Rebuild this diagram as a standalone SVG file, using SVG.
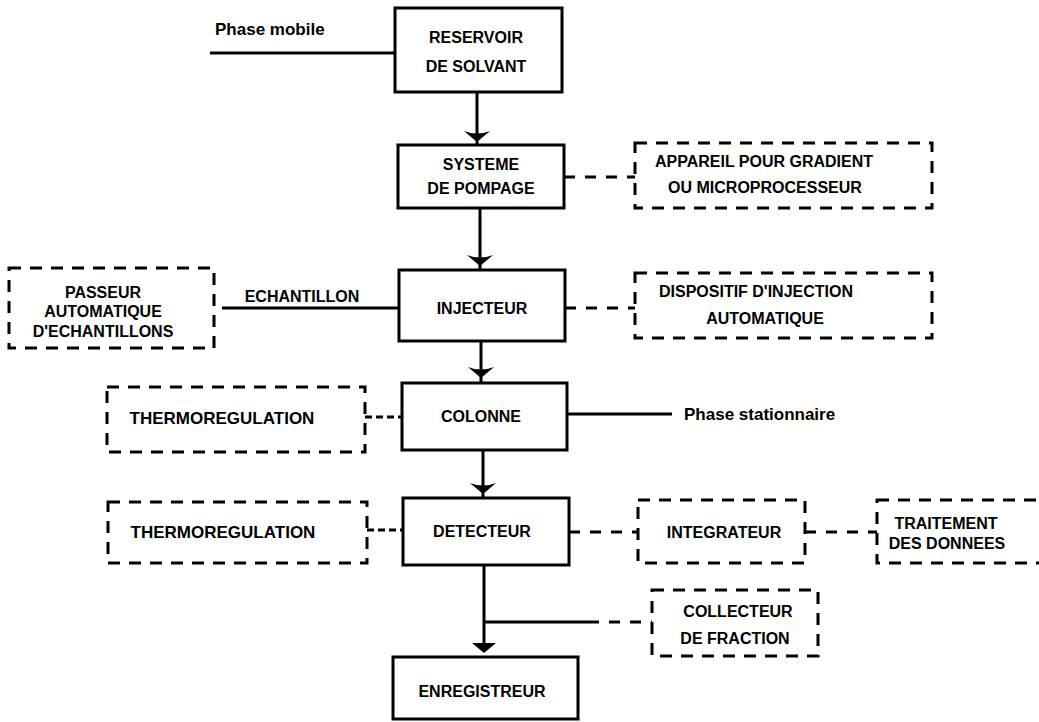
<svg xmlns="http://www.w3.org/2000/svg" width="1039" height="722" viewBox="0 0 1039 722">
<style>
.box{fill:#fff;stroke:#000;stroke-width:3}
.dbox{fill:#fff;stroke:#000;stroke-width:3;stroke-dasharray:12 9}
.ln{stroke:#000;stroke-width:3;fill:none}
.dln{stroke:#000;stroke-width:3;fill:none;stroke-dasharray:11 10}
.sln{stroke:#000;stroke-width:3;fill:none;stroke-dasharray:7 4}
.t{font-family:"Liberation Sans",Arial,sans-serif;font-weight:bold;font-size:16px;fill:#000;text-anchor:middle}
.l{font-family:"Liberation Sans",Arial,sans-serif;font-weight:bold;font-size:17px;fill:#000}
.th{font-size:17px}
</style>
<defs>
<path id="ah" d="M-13,-11 Q0,-6 13,-11 L0,0 Z" fill="#000"/>
<path id="tri" d="M-12,-10 L12,-10 L0,0 Z" fill="#000"/>
</defs>
<rect width="1039" height="722" fill="#fff"/>
<g id="connectors">
<line class="ln" x1="210" y1="53" x2="395" y2="53"/>
<line class="ln" x1="477" y1="92" x2="477" y2="145"/>
<use href="#ah" x="477" y="142"/>
<line class="ln" x1="480" y1="208" x2="480" y2="270"/>
<use href="#ah" x="480" y="266"/>
<line class="ln" x1="481" y1="341" x2="481" y2="383"/>
<use href="#ah" x="481" y="378"/>
<line class="ln" x1="483" y1="450" x2="483" y2="498"/>
<use href="#ah" x="483" y="494"/>
<line class="ln" x1="484" y1="565" x2="484" y2="644"/>
<use href="#tri" x="484" y="653"/>
<line class="ln" x1="484" y1="622" x2="588" y2="622"/>
<line class="dln" x1="588" y1="622" x2="652" y2="622"/>
<line class="ln" x1="222" y1="308" x2="399" y2="308"/>
<line class="ln" x1="567" y1="414" x2="672" y2="414"/>
<line class="dln" x1="564" y1="177" x2="635" y2="177"/>
<line class="dln" x1="565" y1="308" x2="635" y2="308"/>
<line class="sln" x1="365" y1="417" x2="402" y2="417"/>
<line class="sln" x1="367" y1="530" x2="403" y2="530"/>
<line class="dln" x1="569" y1="532" x2="638" y2="532"/>
<line class="dln" x1="805" y1="532" x2="877" y2="532"/>
</g>
<g id="labels">
<text class="l" x="215" y="35">Phase mobile</text>
<text class="t" x="302" y="302">ECHANTILLON</text>
<text class="l" x="684" y="420">Phase stationnaire</text>
</g>
<g id="reservoir">
<rect class="box" x="395" y="8" width="167" height="84"/>
<text class="t" x="476" y="43">RESERVOIR</text>
<text class="t" x="476" y="72">DE SOLVANT</text>
</g>
<g id="pompage">
<rect class="box" x="398" y="145" width="166" height="63"/>
<text class="t" x="481" y="170">SYSTEME</text>
<text class="t" x="481" y="194">DE POMPAGE</text>
</g>
<g id="gradient">
<rect class="dbox" x="635" y="143" width="297" height="65"/>
<text class="t" x="764" y="167">APPAREIL POUR GRADIENT</text>
<text class="t" x="765" y="193">OU MICROPROCESSEUR</text>
</g>
<g id="passeur">
<rect class="dbox" x="9" y="268" width="205" height="80"/>
<text class="t" x="103" y="298">PASSEUR</text>
<text class="t" x="103" y="317">AUTOMATIQUE</text>
<text class="t" x="103" y="337">D'ECHANTILLONS</text>
</g>
<g id="injecteur">
<rect class="box" x="399" y="270" width="166" height="71"/>
<text class="t" x="482" y="314">INJECTEUR</text>
</g>
<g id="dispositif">
<rect class="dbox" x="635" y="273" width="297" height="65"/>
<text class="t" x="756" y="297">DISPOSITIF D'INJECTION</text>
<text class="t" x="765" y="324">AUTOMATIQUE</text>
</g>
<g id="thermo1">
<rect class="dbox" x="107" y="387" width="258" height="65"/>
<text class="t th" x="222" y="424">THERMOREGULATION</text>
</g>
<g id="colonne">
<rect class="box" x="402" y="383" width="165" height="67"/>
<text class="t" x="481" y="422">COLONNE</text>
</g>
<g id="thermo2">
<rect class="dbox" x="108" y="502" width="259" height="61"/>
<text class="t th" x="223" y="538">THERMOREGULATION</text>
</g>
<g id="detecteur">
<rect class="box" x="403" y="498" width="166" height="67"/>
<text class="t" x="482" y="537">DETECTEUR</text>
</g>
<g id="integrateur">
<rect class="dbox" x="638" y="500" width="167" height="63"/>
<text class="t" x="724" y="538">INTEGRATEUR</text>
</g>
<g id="traitement">
<rect class="dbox" x="877" y="500" width="180" height="63"/>
<text class="t" x="946" y="529">TRAITEMENT</text>
<text class="t" x="947" y="549">DES DONNEES</text>
</g>
<g id="collecteur">
<rect class="dbox" x="652" y="590" width="166" height="66"/>
<text class="t" x="738" y="617">COLLECTEUR</text>
<text class="t" x="735" y="644">DE FRACTION</text>
</g>
<g id="enregistreur">
<rect class="box" x="393" y="657" width="185" height="62"/>
<text class="t" x="482" y="697">ENREGISTREUR</text>
</g>
</svg>
